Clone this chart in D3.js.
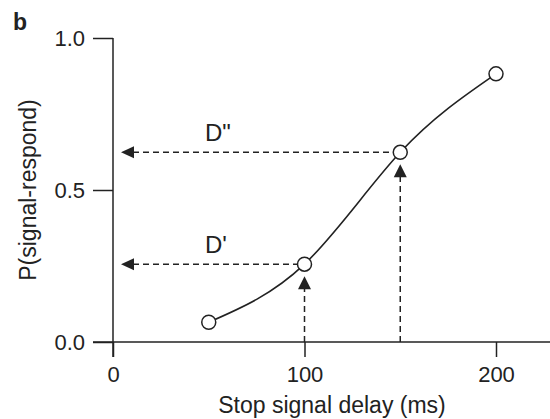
<!DOCTYPE html>
<html>
<head>
<meta charset="utf-8">
<script src="https://cdn.jsdelivr.net/npm/d3@7"></script>
<style>
  body { margin: 0; background: #fff; }
  svg { display: block; font-family: "Liberation Sans", Arial, Helvetica, sans-serif; }
  .tick text { font-size: 22px; fill: #222; }
  .tick line { stroke: #222; stroke-width: 1.5; }
</style>
</head>
<body>
<svg id="chart" width="550" height="419"></svg>
<script>
// data
var delays = [50, 100, 150, 200];
var pRespond = [0.065, 0.256, 0.624, 0.882];
var xTicks = [0, 100, 200];
var yTicks = [0, 0.5, 1.0];
var yTickLabels = ["0.0", "0.5", "1.0"];
var markedDelays = [100, 150];
var markedLabels = ["D'", "D\""];

var svg = d3.select("#chart");
var ink = "#222";

var x = d3.scaleLinear().domain([0, 200]).range([113, 496]);
var y = d3.scaleLinear().domain([0, 1]).range([342, 38]);

// panel letter
svg.append("text").attr("x", 13).attr("y", 30)
    .style("font-size", "23px").style("font-weight", "bold").attr("fill", ink)
    .text("b");

// axes
var yAxis = svg.append("g").attr("transform", "translate(" + x(0) + ",0)")
    .call(d3.axisLeft(y).tickValues(yTicks).tickSize(20).tickPadding(8)
      .tickFormat(function(d, i) { return yTickLabels[i]; }));
yAxis.select(".domain").remove();

var xAxis = svg.append("g").attr("transform", "translate(0," + y(0) + ")")
    .call(d3.axisBottom(x).tickValues(xTicks).tickSize(15).tickPadding(9));
xAxis.select(".domain").remove();
xAxis.selectAll(".tick text").attr("dy", "0.71em");

svg.append("line").attr("x1", x(0)).attr("x2", x(0)).attr("y1", y(1)).attr("y2", y(0) + 15)
    .attr("stroke", ink).attr("stroke-width", 1.5);
svg.append("line").attr("x1", x(0) - 20).attr("x2", 550).attr("y1", y(0)).attr("y2", y(0))
    .attr("stroke", ink).attr("stroke-width", 1.5);

// axis titles
svg.append("text").attr("x", 332).attr("y", 413).attr("text-anchor", "middle")
    .style("font-size", "23px").attr("fill", ink).text("Stop signal delay (ms)");
svg.append("text").attr("transform", "translate(36,190) rotate(-90)").attr("text-anchor", "middle")
    .style("font-size", "23px").attr("fill", ink).text("P(signal-respond)");

// dashed guides with arrowheads
var r = 7;
markedDelays.forEach(function(dly, k) {
  var i = delays.indexOf(dly);
  var px = x(dly), py = y(pRespond[i]);

  // horizontal guide to y axis
  svg.append("line").attr("x1", x(0) + 20).attr("x2", px - r).attr("y1", py).attr("y2", py)
      .attr("stroke", ink).attr("stroke-width", 1.5).attr("stroke-dasharray", "6,4");
  svg.append("path")
      .attr("d", "M" + (x(0) + 8) + "," + py + "L" + (x(0) + 21) + "," + (py - 6) + "L" + (x(0) + 21) + "," + (py + 6) + "Z")
      .attr("fill", ink);

  // vertical guide from x axis
  var tip = py + r + 5;
  svg.append("line").attr("x1", px).attr("x2", px).attr("y1", y(0)).attr("y2", tip + 12)
      .attr("stroke", ink).attr("stroke-width", 1.5).attr("stroke-dasharray", "6,4");
  svg.append("path")
      .attr("d", "M" + px + "," + tip + "L" + (px - 6.5) + "," + (tip + 13) + "L" + (px + 6.5) + "," + (tip + 13) + "Z")
      .attr("fill", ink);

  svg.append("text").attr("x", x(48)).attr("y", py - 11)
      .style("font-size", "24px").attr("fill", ink).text(markedLabels[k]);
});

// curve and points
var pts = delays.map(function(d, i) { return [x(d), y(pRespond[i])]; });
svg.append("path").datum(pts)
    .attr("d", d3.line().curve(d3.curveNatural))
    .attr("fill", "none").attr("stroke", ink).attr("stroke-width", 1.6);

svg.selectAll("circle.pt").data(pts).enter().append("circle")
    .attr("class", "pt")
    .attr("cx", function(d) { return d[0]; })
    .attr("cy", function(d) { return d[1]; })
    .attr("r", r)
    .attr("fill", "#fff").attr("stroke", ink).attr("stroke-width", 1.5);
</script>
</body>
</html>
